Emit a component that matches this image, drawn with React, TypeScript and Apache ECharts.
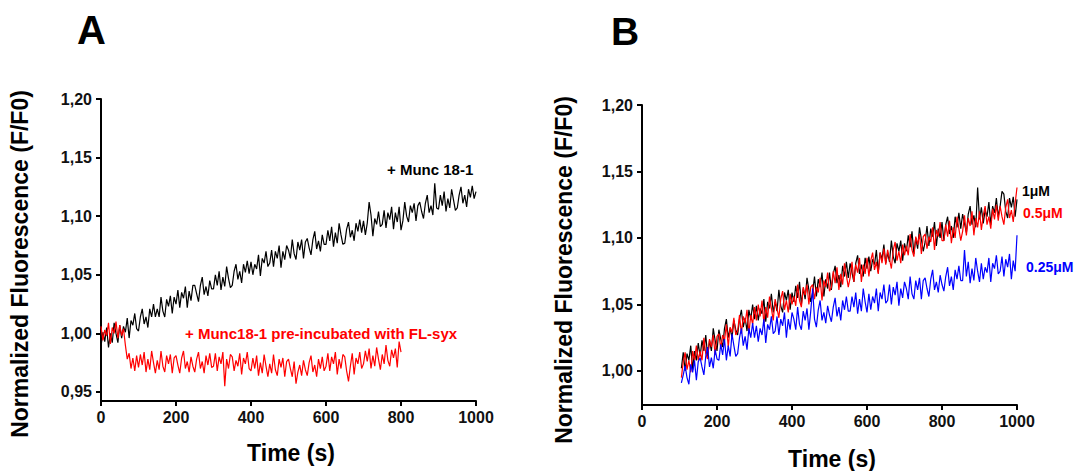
import React, { useEffect, useRef } from "react";
import * as echarts from "echarts";

// ---- Panel A: sampling (s) ----
const A_START = 0;
const A_STEP = 5;
// + Munc 18-1 (black), t = 0..1000 s
const aMunc = [
  0.989, 1.001, 0.993, 1.005, 0.988, 1.000, 0.992, 1.009, 1.000, 0.992,
  1.007, 0.996, 1.006, 1.001, 1.013, 0.996, 1.011, 1.007, 1.017, 1.004,
  1.002, 1.014, 1.021, 1.008, 1.014, 1.005, 1.021, 1.014, 1.025, 1.014,
  1.021, 1.014, 1.031, 1.019, 1.014, 1.029, 1.023, 1.032, 1.017, 1.031,
  1.025, 1.037, 1.022, 1.035, 1.030, 1.040, 1.022, 1.036, 1.028, 1.041,
  1.041, 1.034, 1.027, 1.041, 1.048, 1.033, 1.040, 1.032, 1.045, 1.038,
  1.038, 1.050, 1.041, 1.053, 1.037, 1.048, 1.040, 1.057, 1.047, 1.039,
  1.041, 1.053, 1.059, 1.046, 1.053, 1.043, 1.059, 1.052, 1.062, 1.051,
  1.061, 1.050, 1.059, 1.055, 1.067, 1.049, 1.064, 1.060, 1.070, 1.057,
  1.060, 1.071, 1.057, 1.070, 1.064, 1.075, 1.056, 1.070, 1.063, 1.075,
  1.071, 1.064, 1.080, 1.068, 1.063, 1.078, 1.071, 1.080, 1.064, 1.078,
  1.081, 1.073, 1.067, 1.080, 1.087, 1.072, 1.079, 1.070, 1.084, 1.076,
  1.076, 1.088, 1.079, 1.091, 1.074, 1.086, 1.077, 1.094, 1.084, 1.076,
  1.077, 1.089, 1.095, 1.082, 1.088, 1.079, 1.094, 1.087, 1.097, 1.086,
  1.096, 1.084, 1.094, 1.112, 1.101, 1.083, 1.098, 1.093, 1.104, 1.091,
  1.093, 1.105, 1.090, 1.103, 1.097, 1.108, 1.089, 1.103, 1.095, 1.108,
  1.088, 1.096, 1.112, 1.100, 1.095, 1.109, 1.103, 1.111, 1.096, 1.109,
  1.112, 1.104, 1.098, 1.111, 1.118, 1.103, 1.109, 1.101, 1.128, 1.107,
  1.106, 1.118, 1.109, 1.121, 1.104, 1.115, 1.107, 1.123, 1.114, 1.105,
  1.107, 1.118, 1.125, 1.111, 1.118, 1.108, 1.123, 1.116, 1.126, 1.115,
  1.121,
];
// + Munc18-1 pre-incubated with FL-syx (red), t = 0..800 s
const aPreinc = [
  1.006, 0.994, 1.003, 0.998, 1.009, 0.991, 1.005, 1.000, 1.010, 0.996,
  1.007, 0.998, 1.004, 0.990, 0.978, 0.983, 0.970, 0.979, 0.968, 0.981,
  0.971, 0.982, 0.973, 0.984, 0.967, 0.978, 0.969, 0.985, 0.975, 0.966,
  0.977, 0.969, 0.985, 0.972, 0.967, 0.981, 0.974, 0.982, 0.966, 0.979,
  0.981, 0.973, 0.966, 0.979, 0.985, 0.970, 0.976, 0.967, 0.980, 0.972,
  0.967, 0.978, 0.984, 0.970, 0.976, 0.966, 0.981, 0.973, 0.983, 0.971,
  0.972, 0.983, 0.968, 0.980, 0.974, 0.984, 0.955, 0.978, 0.970, 0.982,
  0.980, 0.968, 0.977, 0.972, 0.983, 0.965, 0.979, 0.974, 0.984, 0.970,
  0.968, 0.979, 0.970, 0.981, 0.964, 0.975, 0.966, 0.982, 0.972, 0.963,
  0.974, 0.966, 0.982, 0.969, 0.964, 0.978, 0.971, 0.979, 0.963, 0.976,
  0.978, 0.970, 0.963, 0.976, 0.957, 0.967, 0.973, 0.964, 0.977, 0.969,
  0.964, 0.975, 0.981, 0.967, 0.973, 0.963, 0.978, 0.970, 0.980, 0.968,
  0.972, 0.983, 0.968, 0.980, 0.974, 0.984, 0.965, 0.978, 0.970, 0.982,
  0.980, 0.968, 0.959, 0.972, 0.983, 0.965, 0.979, 0.974, 0.984, 0.970,
  0.974, 0.985, 0.976, 0.987, 0.970, 0.981, 0.972, 0.988, 0.978, 0.969,
  0.982, 0.974, 0.990, 0.977, 0.972, 0.986, 0.979, 0.987, 0.971, 0.993,
  0.984,
];

// ---- Panel B: sampling (s) ----
const B_START = 105;
const B_STEP = 5;
// 1 µM (black)
const b1uM = [
  1.002, 1.014, 1.000, 1.013, 1.008, 1.019, 1.001, 1.015, 1.008, 1.021,
  1.011, 1.023, 1.015, 1.027, 1.011, 1.023, 1.015, 1.032, 1.023, 1.015,
  1.031, 1.024, 1.018, 1.032, 1.039, 1.025, 1.032, 1.025, 1.038, 1.031,
  1.027, 1.039, 1.046, 1.033, 1.040, 1.030, 1.046, 1.039, 1.050, 1.039,
  1.049, 1.038, 1.047, 1.043, 1.054, 1.037, 1.052, 1.047, 1.058, 1.044,
  1.052, 1.045, 1.061, 1.049, 1.044, 1.059, 1.053, 1.061, 1.046, 1.059,
  1.052, 1.064, 1.055, 1.067, 1.050, 1.062, 1.054, 1.070, 1.061, 1.052,
  1.059, 1.071, 1.056, 1.069, 1.063, 1.074, 1.056, 1.069, 1.062, 1.074,
  1.061, 1.073, 1.079, 1.066, 1.072, 1.063, 1.079, 1.071, 1.082, 1.070,
  1.081, 1.074, 1.067, 1.081, 1.087, 1.073, 1.080, 1.071, 1.085, 1.077,
  1.086, 1.075, 1.084, 1.080, 1.091, 1.074, 1.089, 1.084, 1.095, 1.081,
  1.089, 1.082, 1.098, 1.086, 1.081, 1.096, 1.090, 1.098, 1.083, 1.096,
  1.090, 1.102, 1.093, 1.105, 1.088, 1.100, 1.092, 1.108, 1.099, 1.090,
  1.097, 1.109, 1.094, 1.107, 1.101, 1.112, 1.094, 1.107, 1.100, 1.112,
  1.098, 1.110, 1.116, 1.103, 1.109, 1.100, 1.116, 1.108, 1.119, 1.107,
  1.118, 1.111, 1.104, 1.118, 1.124, 1.110, 1.117, 1.108, 1.138, 1.114,
  1.123, 1.111, 1.121, 1.116, 1.127, 1.110, 1.124, 1.119, 1.130, 1.116,
  1.124, 1.135, 1.133, 1.120, 1.115, 1.130, 1.123, 1.131, 1.116, 1.129,
];
// 0.5 µM (red)
const b05uM = [
  0.995, 1.007, 1.014, 1.001, 1.008, 0.999, 1.015, 1.008, 1.019, 1.008,
  1.015, 1.008, 1.025, 1.013, 1.009, 1.024, 1.018, 1.027, 1.012, 1.026,
  1.028, 1.017, 1.027, 1.023, 1.035, 1.018, 1.033, 1.029, 1.040, 1.027,
  1.030, 1.042, 1.028, 1.041, 1.036, 1.046, 1.028, 1.042, 1.035, 1.048,
  1.038, 1.050, 1.041, 1.053, 1.036, 1.048, 1.040, 1.056, 1.047, 1.038,
  1.054, 1.047, 1.040, 1.054, 1.060, 1.046, 1.053, 1.044, 1.058, 1.050,
  1.056, 1.049, 1.065, 1.053, 1.048, 1.063, 1.057, 1.065, 1.050, 1.063,
  1.065, 1.054, 1.063, 1.059, 1.070, 1.053, 1.068, 1.063, 1.074, 1.060,
  1.063, 1.075, 1.066, 1.078, 1.061, 1.073, 1.065, 1.081, 1.072, 1.063,
  1.070, 1.082, 1.067, 1.080, 1.074, 1.085, 1.067, 1.080, 1.073, 1.085,
  1.071, 1.083, 1.089, 1.076, 1.082, 1.073, 1.089, 1.081, 1.092, 1.080,
  1.091, 1.084, 1.077, 1.091, 1.097, 1.083, 1.090, 1.081, 1.095, 1.087,
  1.094, 1.087, 1.103, 1.091, 1.086, 1.101, 1.095, 1.103, 1.088, 1.101,
  1.103, 1.092, 1.101, 1.097, 1.108, 1.091, 1.106, 1.101, 1.112, 1.098,
  1.098, 1.110, 1.101, 1.113, 1.096, 1.108, 1.100, 1.116, 1.107, 1.098,
  1.105, 1.117, 1.102, 1.115, 1.109, 1.120, 1.102, 1.115, 1.108, 1.120,
  1.106, 1.117, 1.124, 1.110, 1.116, 1.107, 1.122, 1.114, 1.125, 1.113,
  1.124, 1.116, 1.110, 1.123, 1.129, 1.115, 1.121, 1.112, 1.126, 1.138,
];
// 0.25 µM (blue)
const b025uM = [
  0.991, 0.997, 1.004, 0.995, 0.990, 1.005, 0.999, 1.008, 0.993, 1.007,
  1.010, 1.003, 0.997, 1.011, 1.018, 1.003, 1.010, 1.002, 1.016, 1.009,
  1.008, 1.020, 1.012, 1.024, 1.008, 1.019, 1.011, 1.028, 1.019, 1.011,
  1.013, 1.025, 1.032, 1.019, 1.026, 1.016, 1.032, 1.025, 1.036, 1.025,
  1.034, 1.022, 1.032, 1.027, 1.039, 1.021, 1.035, 1.031, 1.041, 1.028,
  1.030, 1.041, 1.027, 1.039, 1.034, 1.044, 1.025, 1.039, 1.031, 1.044,
  1.039, 1.031, 1.048, 1.035, 1.031, 1.045, 1.038, 1.047, 1.031, 1.045,
  1.062, 1.039, 1.033, 1.046, 1.053, 1.038, 1.044, 1.036, 1.049, 1.042,
  1.037, 1.048, 1.055, 1.041, 1.048, 1.038, 1.053, 1.046, 1.056, 1.045,
  1.045, 1.056, 1.048, 1.059, 1.043, 1.054, 1.045, 1.062, 1.052, 1.044,
  1.058, 1.046, 1.056, 1.051, 1.062, 1.045, 1.059, 1.054, 1.065, 1.051,
  1.053, 1.065, 1.050, 1.063, 1.057, 1.067, 1.049, 1.062, 1.055, 1.067,
  1.062, 1.054, 1.071, 1.058, 1.054, 1.068, 1.061, 1.070, 1.054, 1.068,
  1.070, 1.062, 1.056, 1.069, 1.076, 1.061, 1.067, 1.059, 1.072, 1.065,
  1.060, 1.071, 1.078, 1.064, 1.071, 1.061, 1.076, 1.069, 1.079, 1.068,
  1.068, 1.091, 1.071, 1.082, 1.066, 1.077, 1.068, 1.085, 1.075, 1.067,
  1.081, 1.069, 1.078, 1.074, 1.085, 1.067, 1.081, 1.077, 1.087, 1.073,
  1.075, 1.086, 1.071, 1.084, 1.078, 1.088, 1.069, 1.083, 1.075, 1.102,
];

const yTicksA = [0.95, 1.0, 1.05, 1.1, 1.15, 1.2];
const yTicksB = [1.0, 1.05, 1.1, 1.15, 1.2];

const FONT = "'Liberation Sans', Arial, Helvetica, sans-serif";

const toPairs = (start: number, step: number, vals: number[]) =>
  vals.map((v, i) => [start + i * step, v]);

const fmtComma = (v: number) => v.toFixed(2).replace(".", ",");

export default function App() {
  const ref = useRef<HTMLDivElement>(null);
  useEffect(() => {
    if (!ref.current) return;
    const chart = echarts.init(ref.current, undefined, { renderer: "svg" });

    const axisLine = { show: true, onZero: false, lineStyle: { color: "#000", width: 2 } };
    const axisTick = { show: true, length: 5, lineStyle: { color: "#000", width: 2 } };
    const lbl = { color: "#111", fontFamily: FONT, fontWeight: "bold" as const, fontSize: 16 };

    const lineSeries = (name: string, color: string, idx: number, data: number[][]) => ({
      name,
      type: "line" as const,
      xAxisIndex: idx,
      yAxisIndex: idx,
      data,
      showSymbol: false,
      symbol: "none",
      lineStyle: { color, width: 1.2 },
      itemStyle: { color },
      silent: true,
    });

    chart.setOption({
      animation: false,
      backgroundColor: "#fff",
      grid: [
        { left: 101, top: 99, width: 375, height: 302 },
        { left: 642, top: 105, width: 375, height: 300 },
      ],
      xAxis: [0, 1].map((i) => ({
        type: "value",
        gridIndex: i,
        min: 0,
        max: 1000,
        interval: 200,
        axisLine,
        axisTick,
        splitLine: { show: false },
        axisLabel: { ...lbl, margin: 8, formatter: (v: number) => String(v) },
      })),
      yAxis: [
        {
          type: "value",
          gridIndex: 0,
          min: 0.9423,
          max: 1.2,
          axisLine,
          axisTick: { ...axisTick, customValues: yTicksA },
          splitLine: { show: false },
          axisLabel: { ...lbl, margin: 9, customValues: yTicksA, formatter: fmtComma },
        },
        {
          type: "value",
          gridIndex: 1,
          min: 0.9744,
          max: 1.2,
          axisLine,
          axisTick: { ...axisTick, customValues: yTicksB },
          splitLine: { show: false },
          axisLabel: { ...lbl, margin: 9, customValues: yTicksB, formatter: fmtComma },
        },
      ],
      series: [
        lineSeries("+ Munc 18-1", "#000000", 0, toPairs(A_START, A_STEP, aMunc)),
        lineSeries("+ Munc18-1 pre-incubated with FL-syx", "#ff0000", 0, toPairs(A_START, A_STEP, aPreinc)),
        lineSeries("1μM", "#000000", 1, toPairs(B_START, B_STEP, b1uM)),
        lineSeries("0.5μM", "#ff0000", 1, toPairs(B_START, B_STEP, b05uM)),
        lineSeries("0.25μM", "#0000ff", 1, toPairs(B_START, B_STEP, b025uM)),
      ],
      graphic: [
        { type: "text", left: 77, top: 10, style: { text: "A", fontSize: 40, fontWeight: "bold", fontFamily: FONT, fill: "#000" } },
        { type: "text", left: 611, top: 12, style: { text: "B", fontSize: 39, fontWeight: "bold", fontFamily: FONT, fill: "#000" } },
        {
          type: "text", x: 20, y: 264, rotation: Math.PI / 2,
          style: { text: "Normalized Fluorescence (F/F0)", fontSize: 23, fontWeight: "bold", fontFamily: FONT, fill: "#000", align: "center", verticalAlign: "middle" },
        },
        {
          type: "text", x: 564, y: 270, rotation: Math.PI / 2,
          style: { text: "Normalized Fluorescence (F/F0)", fontSize: 23, fontWeight: "bold", fontFamily: FONT, fill: "#000", align: "center", verticalAlign: "middle" },
        },
        { type: "text", x: 291, y: 453, style: { text: "Time (s)", fontSize: 23, fontWeight: "bold", fontFamily: FONT, fill: "#000", align: "center", verticalAlign: "middle" } },
        { type: "text", x: 832, y: 459, style: { text: "Time (s)", fontSize: 23, fontWeight: "bold", fontFamily: FONT, fill: "#000", align: "center", verticalAlign: "middle" } },
        { type: "text", x: 387, y: 169, style: { text: "+ Munc 18-1", fontSize: 15, fontWeight: "bold", fontFamily: FONT, fill: "#000", align: "left", verticalAlign: "middle" } },
        { type: "text", x: 185, y: 333, style: { text: "+ Munc18-1 pre-incubated with FL-syx", fontSize: 15, fontWeight: "bold", fontFamily: FONT, fill: "#ff0000", align: "left", verticalAlign: "middle" } },
        { type: "text", x: 1022, y: 191, style: { text: "1μM", fontSize: 14, fontWeight: "bold", fontFamily: FONT, fill: "#000", align: "left", verticalAlign: "middle" } },
        { type: "text", x: 1023, y: 213, style: { text: "0.5μM", fontSize: 14, fontWeight: "bold", fontFamily: FONT, fill: "#ff0000", align: "left", verticalAlign: "middle" } },
        { type: "text", x: 1026, y: 267, style: { text: "0.25μM", fontSize: 14, fontWeight: "bold", fontFamily: FONT, fill: "#0000ff", align: "left", verticalAlign: "middle" } },
      ],
    });
    return () => chart.dispose();
  }, []);
  return (
    <div
      ref={ref}
      style={{ position: "fixed", left: 0, top: 0, width: 1077, height: 471, background: "#fff" }}
    />
  );
}
